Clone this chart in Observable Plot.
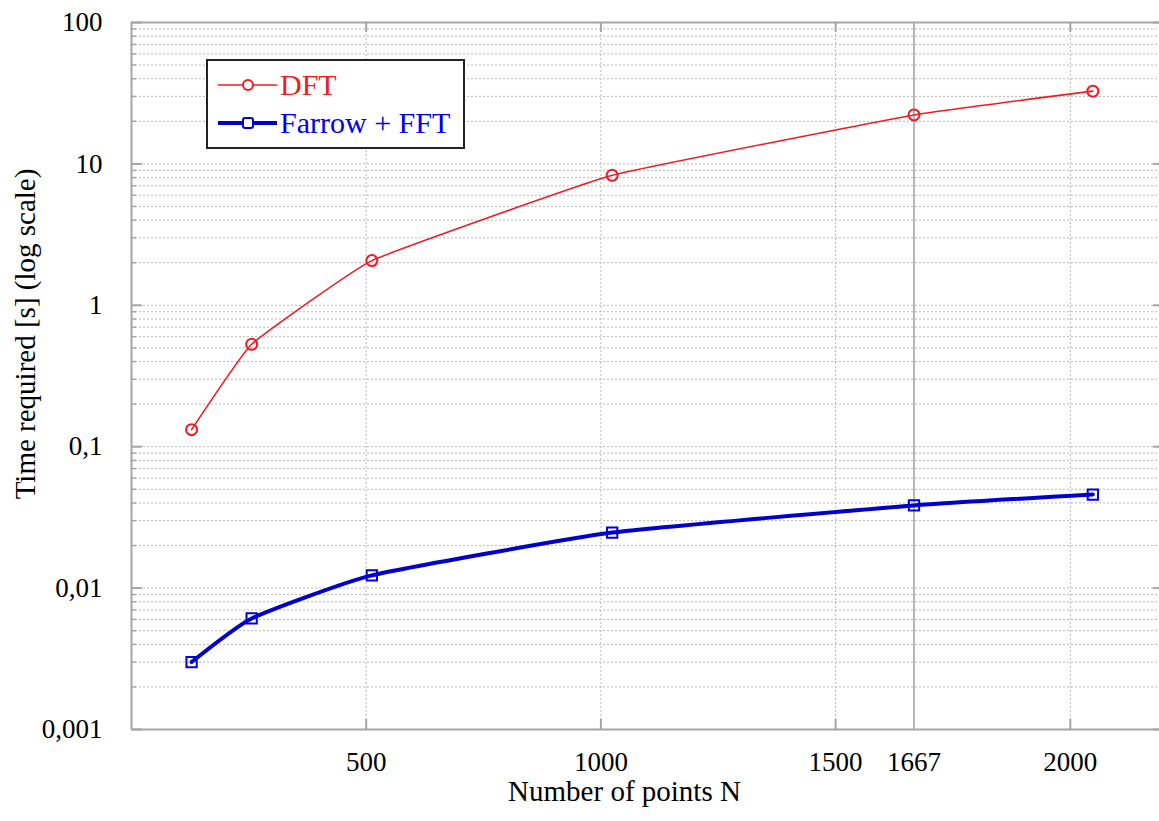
<!DOCTYPE html>
<html><head><meta charset="utf-8">
<script src="https://cdn.jsdelivr.net/npm/d3@7"></script>
<script src="https://cdn.jsdelivr.net/npm/@observablehq/plot@0.6"></script>
<style>
body{margin:0;background:#fff;}
#wrap{position:relative;width:1159px;height:821px;background:#fff;}
#wrap, #wrap *, #wrap svg text {font-family:'Liberation Serif', serif !important;}
#legend{position:absolute;left:206px;top:59px;width:259px;height:90px;box-sizing:border-box;border:2px solid #222;background:#fff;}
.lrow{position:absolute;left:10px;height:30px;display:flex;align-items:center;font-size:30px;white-space:nowrap;}
.lrow svg{margin-right:3px;}
</style></head><body><div id="wrap"></div>
<script>
const N = [128, 256, 512, 1024, 1667, 2048];
const dftTime = [0.132, 0.53, 2.07, 8.3, 22.2, 32.7];
const fftTime = [0.0030, 0.0061, 0.0123, 0.0247, 0.0384, 0.0459];
const seriesNames = ["DFT", "Farrow + FFT"];
const seriesColors = ["#ee1c24", "#0000cc"];
const xTicks = [500, 1000, 1500, 1667, 2000];
const xDotGrid = [500, 1000, 1500, 2000];
const xSolidGrid = [1667];
const yMajor = [0.001, 0.01, 0.1, 1, 10, 100];
const yTickLabels = ["0,001", "0,01", "0,1", "1", "10", "100"];
const xTitle = "Number of points N";
const yTitle = "Time required [s] (log scale)";
const yMinor = [];
for (let k = 0; k < 5; k++) for (let m = 2; m <= 9; m++) yMinor.push(+(m * yMajor[k]).toPrecision(3));

const dft = N.map((n, i) => ({n, t: dftTime[i]}));
const fft = N.map((n, i) => ({n, t: fftTime[i]}));

const W = 1159, H = 821, mL = 131, mT = 22, mB = 92, mR = 0;
const pw = W - mL - mR, ph = H - mT - mB;
const grid = "#b8b8b8", frameC = "#a6a6a6";
const serif = "'Liberation Serif', serif";

const chart = Plot.plot({
  width: W, height: H,
  marginLeft: mL, marginRight: mR, marginTop: mT, marginBottom: mB,
  style: {fontFamily: serif, fontSize: "27px", background: "#fff", color: "#000", overflow: "visible"},
  x: {domain: [0, 2190], label: null},
  y: {type: "log", domain: [0.001, 100], label: null},
  marks: [
    Plot.ruleY(yMinor, {stroke: grid, strokeDasharray: "2,2"}),
    Plot.ruleY(yMajor, {stroke: grid, strokeDasharray: "2,2"}),
    Plot.ruleX(xDotGrid, {stroke: grid, strokeDasharray: "2,2"}),
    Plot.ruleX(xSolidGrid, {stroke: frameC, strokeWidth: 1.6}),
    Plot.ruleX([0], {stroke: frameC, strokeWidth: 2}),
    Plot.ruleY([0.001, 100], {stroke: frameC, strokeWidth: 2}),
    Plot.tickX(xDotGrid, {x: d => d, insetTop: ph - 10, stroke: frameC, strokeWidth: 2}),
    Plot.tickX(xDotGrid, {x: d => d, insetBottom: ph - 10, stroke: frameC, strokeWidth: 2}),
    Plot.tickY(yMajor, {y: d => d, insetRight: pw - 11, stroke: frameC, strokeWidth: 2}),
    Plot.tickY(yMinor, {y: d => d, insetRight: pw - 5, stroke: frameC, strokeWidth: 1.5}),
    Plot.tickY(yMajor, {y: d => d, insetLeft: pw - 6, stroke: frameC, strokeWidth: 2}),
    Plot.line(dft, {x: "n", y: "t", stroke: seriesColors[0], strokeWidth: 1.6, curve: "cardinal", tension: 0.7}),
    Plot.dot(dft, {x: "n", y: "t", r: 5.5, stroke: seriesColors[0], fill: "none", strokeWidth: 2}),
    Plot.line(fft, {x: "n", y: "t", stroke: seriesColors[1], strokeWidth: 4, curve: "cardinal", tension: 0.55}),
    Plot.dot(fft, {x: "n", y: "t", symbol: "square", r: 5.8, stroke: "#0000e0", fill: "none", strokeWidth: 2}),
    Plot.axisX(xTicks, {tickSize: 0, tickPadding: 22, tickFormat: d => String(d), fontSize: 27, fontFamily: serif, label: null}),
    Plot.axisY(yMajor, {tickSize: 0, tickPadding: 29, tickFormat: d => yTickLabels[yMajor.indexOf(d)], fontSize: 27, fontFamily: serif, label: null}),
    Plot.text([xTitle], {frameAnchor: "bottom", textAnchor: "middle", lineAnchor: "middle", dx: -21, dy: 62, fontSize: 29, fontFamily: serif, letterSpacing: 0.8}),
    Plot.text([yTitle], {frameAnchor: "left", textAnchor: "middle", lineAnchor: "middle", rotate: -90, dx: -106, dy: -42, fontSize: 29, fontFamily: serif, letterSpacing: 0.8})
  ]
});

const wrap = document.getElementById("wrap");
wrap.appendChild(chart);

const legend = document.createElement("div");
legend.id = "legend";
const markers = [
  '<circle cx="30" cy="10" r="5" fill="#fff" stroke="' + seriesColors[0] + '" stroke-width="2"/>',
  '<rect x="25" y="5" width="10" height="10" rx="2" fill="#fff" stroke="#0000e0" stroke-width="2"/>'
];
seriesNames.forEach((name, i) => {
  const row = document.createElement("div");
  row.className = "lrow";
  row.style.top = (i === 0 ? 9 : 47) + "px";
  row.style.color = i === 0 ? seriesColors[0] : "#0000ee";
  row.innerHTML = '<svg width="59" height="20"><line x1="0" x2="59" y1="10" y2="10" stroke="' + seriesColors[i] + '" stroke-width="' + (i === 0 ? 1.6 : 4) + '"/>' + markers[i] + '</svg>';
  const span = document.createElement("span");
  span.textContent = name;
  row.appendChild(span);
  legend.appendChild(row);
});
wrap.appendChild(legend);
</script>
</body></html>
